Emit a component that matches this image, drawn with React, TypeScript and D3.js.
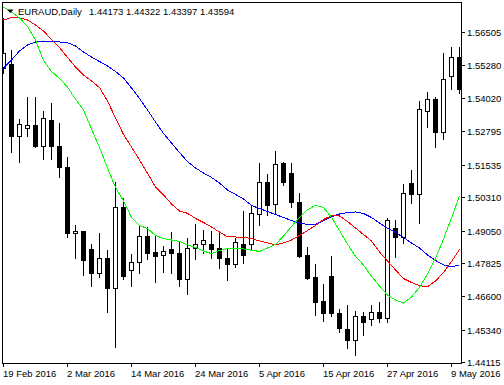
import React from 'react';
import * as d3 from 'd3';

// EURAUD daily, 19 Feb 2016 - 10 May 2016
const opens = [
  1.55165, 1.55315, 1.52612, 1.52912, 1.53025, 1.52236, 1.53213, 1.52236, 1.51448, 1.48970,
  1.49045, 1.48369, 1.47468, 1.48031, 1.46905, 1.49946, 1.47581, 1.47881, 1.48857, 1.48257,
  1.48144, 1.48369, 1.48219, 1.47243, 1.48407, 1.48557, 1.48557, 1.48407, 1.48031, 1.47806,
  1.48557, 1.48557, 1.49683, 1.50885, 1.50059, 1.51598, 1.51223, 1.50134, 1.48144, 1.47318,
  1.46417, 1.47356, 1.45966, 1.45366, 1.44953, 1.45854, 1.45741, 1.46004, 1.45779, 1.49158,
  1.48820, 1.50847, 1.50434, 1.53550, 1.54001, 1.52762, 1.54865, 1.55578,
];
const highs = [
  1.57042, 1.55841, 1.53250, 1.54076, 1.54076, 1.53550, 1.53851, 1.53100, 1.51823, 1.49270,
  1.49045, 1.48557, 1.48970, 1.48332, 1.50885, 1.50284, 1.48182, 1.49270, 1.49195, 1.48857,
  1.48482, 1.49008, 1.48670, 1.48782, 1.49308, 1.49083, 1.49045, 1.49045, 1.48369, 1.48782,
  1.49796, 1.50021, 1.51598, 1.51185, 1.52049, 1.51636, 1.51598, 1.50472, 1.48444, 1.47806,
  1.47055, 1.48106, 1.46117, 1.46267, 1.46042, 1.46004, 1.46267, 1.46379, 1.49533, 1.49458,
  1.50810, 1.51335, 1.53926, 1.54264, 1.54076, 1.55728, 1.55953, 1.55953,
];
const lows = [
  1.54977, 1.52011, 1.51636, 1.52612, 1.52199, 1.51748, 1.51748, 1.51073, 1.48820, 1.48031,
  1.47393, 1.46980, 1.47318, 1.46004, 1.44690, 1.47243, 1.46980, 1.47468, 1.47994, 1.47130,
  1.47506, 1.47468, 1.46980, 1.46680, 1.47994, 1.48219, 1.48031, 1.47656, 1.47205, 1.47693,
  1.47844, 1.48332, 1.49270, 1.49646, 1.49683, 1.50772, 1.49946, 1.48069, 1.47243, 1.45891,
  1.45666, 1.45854, 1.45253, 1.44652, 1.44390, 1.45140, 1.45516, 1.45628, 1.45628, 1.48069,
  1.48595, 1.50096, 1.49345, 1.52950, 1.52199, 1.52499, 1.54376, 1.54226,
];
const closes = [
  1.55728, 1.52612, 1.53062, 1.53025, 1.52236, 1.53288, 1.52236, 1.51448, 1.48970, 1.49045,
  1.47956, 1.47468, 1.48031, 1.46905, 1.49946, 1.47356, 1.47881, 1.48857, 1.48219, 1.48106,
  1.48294, 1.48219, 1.47243, 1.48407, 1.48557, 1.48707, 1.48369, 1.48031, 1.47806, 1.48632,
  1.48144, 1.49721, 1.50885, 1.50021, 1.51561, 1.50885, 1.50134, 1.48106, 1.47281, 1.46379,
  1.45966, 1.45966, 1.45403, 1.44953, 1.45854, 1.45628, 1.46004, 1.45779, 1.49458, 1.48820,
  1.50472, 1.50434, 1.53626, 1.54001, 1.52762, 1.54752, 1.55578, 1.54376,
];

// moving averages as plotted
const maSlow = [
  1.55165, 1.55465, 1.55803, 1.56029, 1.56141, 1.56167, 1.56160, 1.56141, 1.56115, 1.55991,
  1.55766, 1.55578, 1.55409, 1.55240, 1.55034, 1.54790, 1.54414, 1.54020, 1.53588, 1.53138,
  1.52706, 1.52349, 1.51992, 1.51647, 1.51410, 1.51223, 1.51054, 1.50847, 1.50584, 1.50416,
  1.50247, 1.50003, 1.49890, 1.49777, 1.49665, 1.49552, 1.49439, 1.49346, 1.49289, 1.49289,
  1.49439, 1.49582, 1.49683, 1.49740, 1.49759, 1.49702, 1.49552, 1.49346, 1.49147, 1.48989,
  1.48801, 1.48595, 1.48407, 1.48144, 1.47938, 1.47769, 1.47694, 1.47769,
];
const maMid = [
  1.56967, 1.57061, 1.57042, 1.56967, 1.56779, 1.56554, 1.56235, 1.55935, 1.55559, 1.55203,
  1.54902, 1.54677, 1.54433, 1.53926, 1.53288, 1.52668, 1.52199, 1.51711, 1.51212, 1.50697,
  1.50397, 1.50059, 1.49796, 1.49710, 1.49514, 1.49364, 1.49195, 1.49008, 1.48831, 1.48820,
  1.48801, 1.48764, 1.48670, 1.48595, 1.48527, 1.48595, 1.48707, 1.48876, 1.49064, 1.49252,
  1.49477, 1.49620, 1.49608, 1.49402, 1.49158, 1.48914, 1.48670, 1.48257, 1.47919, 1.47581,
  1.47262, 1.47112, 1.46991, 1.46954, 1.47168, 1.47487, 1.47900, 1.48351,
];
const maFast = [
  1.57455, 1.57268, 1.57042, 1.56723, 1.56216, 1.55447, 1.55034, 1.54771, 1.54452, 1.54001,
  1.53588, 1.52875, 1.52180, 1.51410, 1.50678, 1.50172, 1.49552, 1.49252, 1.49139, 1.48876,
  1.48764, 1.48707, 1.48651, 1.48520, 1.48426, 1.48294, 1.48193, 1.48313, 1.48377, 1.48388,
  1.48369, 1.48324, 1.48275, 1.48407, 1.48538, 1.48857, 1.49214, 1.49552, 1.49841, 1.50010,
  1.49927, 1.49552, 1.49064, 1.48557, 1.48095, 1.47769, 1.47344, 1.46980, 1.46642, 1.46455,
  1.46342, 1.46567, 1.46924, 1.47431, 1.48013, 1.48745, 1.49533, 1.50359,
];

const priceTicks = [1.56505, 1.5528, 1.5402, 1.52795, 1.51535, 1.5031, 1.4905, 1.47825, 1.466, 1.4534, 1.44115];
const dateTickBars = [0, 8, 16, 24, 32, 40, 48, 56];
const dateTickLabels = ['19 Feb 2016', '2 Mar 2016', '14 Mar 2016', '24 Mar 2016', '5 Apr 2016', '15 Apr 2016', '27 Apr 2016', '9 May 2016'];

const symbol = 'EURAUD,Daily';
const lastQuote = '1.44173 1.44322 1.43397 1.43594';

const W = 504;
const H = 385;
const left = 2;
const top = 2;
const right = 461;
const bottom = 363;
const font = '"Liberation Sans", Arial, sans-serif';

export default function App() {
  const n = closes.length;
  const x = d3.scaleLinear().domain([0, n - 1]).range([3, 459]);
  const y = d3.scaleLinear().domain([1.44115, 1.56505]).range([362.3, 32.3]);
  const py = (v: number) => Math.round(y(v));

  const line = d3.line<number>()
    .x((d, i) => x(i) + 0.5)
    .y((d) => y(d));

  const candles = closes.map((c, i) => {
    const o = opens[i];
    const cx = Math.round(x(i));
    const bull = c >= o;
    const t = py(Math.max(o, c));
    const b = py(Math.min(o, c));
    return (
      <g key={i}>
        <line x1={cx + 0.5} x2={cx + 0.5} y1={py(highs[i])} y2={py(lows[i]) + 1} stroke="#000" />
        <rect x={cx - 1.5} y={t + 0.5} width={4} height={Math.max(b - t, 1)}
          fill={bull ? '#fff' : '#000'} stroke="#000" />
      </g>
    );
  });

  return (
    <svg width={W} height={H} style={{ position: 'absolute', left: 0, top: 0, background: '#fff' }}>
      <defs>
        <clipPath id="plot">
          <rect x={left + 1} y={top + 1} width={right - left - 1} height={bottom - top - 1} />
        </clipPath>
      </defs>
      <g clipPath="url(#plot)">
        {candles}
        <g fill="none" strokeWidth={1} shapeRendering="crispEdges">
          <path d={line(maSlow) || ''} stroke="#0000ff" />
          <path d={line(maMid) || ''} stroke="#ff0000" />
          <path d={line(maFast) || ''} stroke="#00ff00" />
        </g>
      </g>
      <rect x={left + 0.5} y={top + 0.5} width={right - left} height={bottom - top} fill="none" stroke="#000" />

      {priceTicks.map((p) => (
        <g key={p}>
          <line x1={right} x2={right + 4} y1={py(p) + 0.5} y2={py(p) + 0.5} stroke="#000" />
          <text x={467} y={py(p) + 0.5} dy="0.35em" fontSize={9.5} fontFamily={font} fill="#000">
            {p.toFixed(5)}
          </text>
        </g>
      ))}

      {dateTickBars.map((b, k) => (
        <g key={b}>
          <line x1={Math.round(x(b)) + 0.5} x2={Math.round(x(b)) + 0.5} y1={bottom} y2={bottom + 4} stroke="#000" />
          <text x={Math.round(x(b))} y={377} fontSize={9.5} fontFamily={font} fill="#000">
            {dateTickLabels[k]}
          </text>
        </g>
      ))}

      <polygon points="7,9.5 13.5,9.5 10.25,13" fill="#000" />
      <text x={18} y={14.5} fontSize={9.5} fontFamily={font} fill="#000">{symbol}</text>
      <text x={89} y={14.5} fontSize={9.5} fontFamily={font} fill="#000">{lastQuote}</text>
    </svg>
  );
}
